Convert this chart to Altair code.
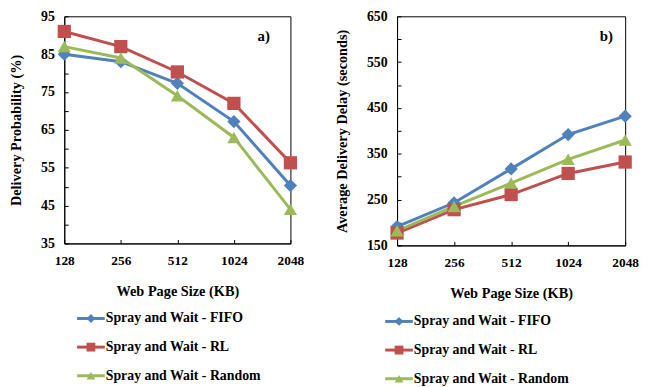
import altair as alt
import pandas as pd

sizes = ["128", "256", "512", "1024", "2048"]
series = ["Spray and Wait - FIFO", "Spray and Wait - RL", "Spray and Wait - Random"]
prob_fifo = [85.0, 83.0, 77.3, 67.2, 50.3]
prob_rl = [91.0, 87.0, 80.3, 72.0, 56.3]
prob_random = [87.0, 84.0, 74.0, 63.0, 44.0]
delay_fifo = [191, 243, 317, 392, 432]
delay_rl = [177, 228, 261, 307, 332]
delay_random = [182, 235, 286, 338, 380]
panel_labels = ["a)", "b)"]

colors = ["#4F81BD", "#C0504D", "#9BBB59"]
shapes = ["diamond", "square", "triangle-up"]

FONT = "Liberation Serif"


def to_long(vals_list):
    rows = []
    for s, vals in zip(series, vals_list):
        for x, v in zip(sizes, vals):
            rows.append({"size": x, "series": s, "value": v})
    return pd.DataFrame(rows)


line_color = alt.Color("series:N", scale=alt.Scale(domain=series, range=colors), legend=None)
shape = alt.Shape("series:N", scale=alt.Scale(domain=series, range=shapes), legend=None)


def panel(df, label, ydomain, ystep, ytitle, W, H, leg_x0, leg_dy, lab_dx):
    x = alt.X(
        "size:N", sort=sizes,
        scale=alt.Scale(type="point", padding=0),
        axis=alt.Axis(title="Web Page Size (KB)", labelAngle=0, grid=True,
                      gridDash=[0, H - 4, 4, 3000], ticks=False, labelFontSize=13.5,
                      labelPadding=10, titlePadding=18),
    )
    yvals = list(range(ydomain[0], ydomain[1] + 1, ystep))
    y = alt.Y(
        "value:Q",
        scale=alt.Scale(domain=ydomain, nice=False, zero=False),
        axis=alt.Axis(title=ytitle, values=yvals,
                      labelExpr=f"(datum.value - {ydomain[0]}) % {2 * ystep} == 0 ? datum.label : ''",
                      grid=True, gridDash=[4, 3000], ticks=False,
                      labelPadding=10, titlePadding=17),
    )
    base = alt.Chart(df)
    line = base.mark_line(strokeWidth=3).encode(x=x, y=y, color=line_color)
    pts = base.mark_point(filled=True, size=180, opacity=1).encode(
        x=x, y=y, color=line_color, shape=shape)

    leg = alt.Chart(pd.DataFrame({"series": series}))
    ly = alt.Y("series:N", sort=series,
               scale=alt.Scale(type="point", domain=series,
                               range=[H + leg_dy, H + leg_dy + 58], padding=0),
               axis=None)
    lrule = leg.mark_rule(strokeWidth=3).encode(
        x=alt.value(leg_x0), x2=alt.value(leg_x0 + 28), y=ly, color=line_color)
    lpt = leg.mark_point(filled=True, size=80, opacity=1).encode(
        x=alt.value(leg_x0 + 14), y=ly, color=line_color, shape=shape)
    ltxt = leg.mark_text(align="left", baseline="middle", font=FONT, fontSize=14,
                         fontWeight="bold", color="black").encode(
        x=alt.value(leg_x0 + 29), y=ly, text="series:N")

    lab = alt.Chart(pd.DataFrame({"label": [label]})).mark_text(
        font=FONT, fontSize=15, fontWeight="bold", color="black").encode(
        x=alt.value(W - lab_dx), y=alt.value(20), text="label:N")

    return alt.layer(
        alt.layer(line, pts),
        alt.layer(lrule, lpt, ltxt),
        lab,
    ).resolve_scale(y="independent").properties(width=W, height=H)


pa = panel(to_long([prob_fifo, prob_rl, prob_random]), panel_labels[0], [35, 95], 5,
           "Delivery Probability (%)", 229, 230, 13, 76, 27)
pb = panel(to_long([delay_fifo, delay_rl, delay_random]), panel_labels[1], [150, 650], 50,
           "Average Delivery Delay (seconds)", 231, 232, -12, 77, 19)

chart = alt.hconcat(pa, pb, spacing=108, bounds="flush").properties(
    padding={"top": -2, "left": 0, "right": 0, "bottom": 0}
).configure_view(
    stroke="black", strokeWidth=1
).configure_axis(
    domainColor="black", domainWidth=1,
    gridColor="black", gridOpacity=1, gridWidth=1,
    labelFont=FONT, labelFontSize=14, labelFontWeight="bold", labelColor="black",
    titleFont=FONT, titleFontSize=14.5, titleFontWeight="bold", titleColor="black",
)

chart.save("out.html", embed_options={"renderer": "svg", "actions": False})
